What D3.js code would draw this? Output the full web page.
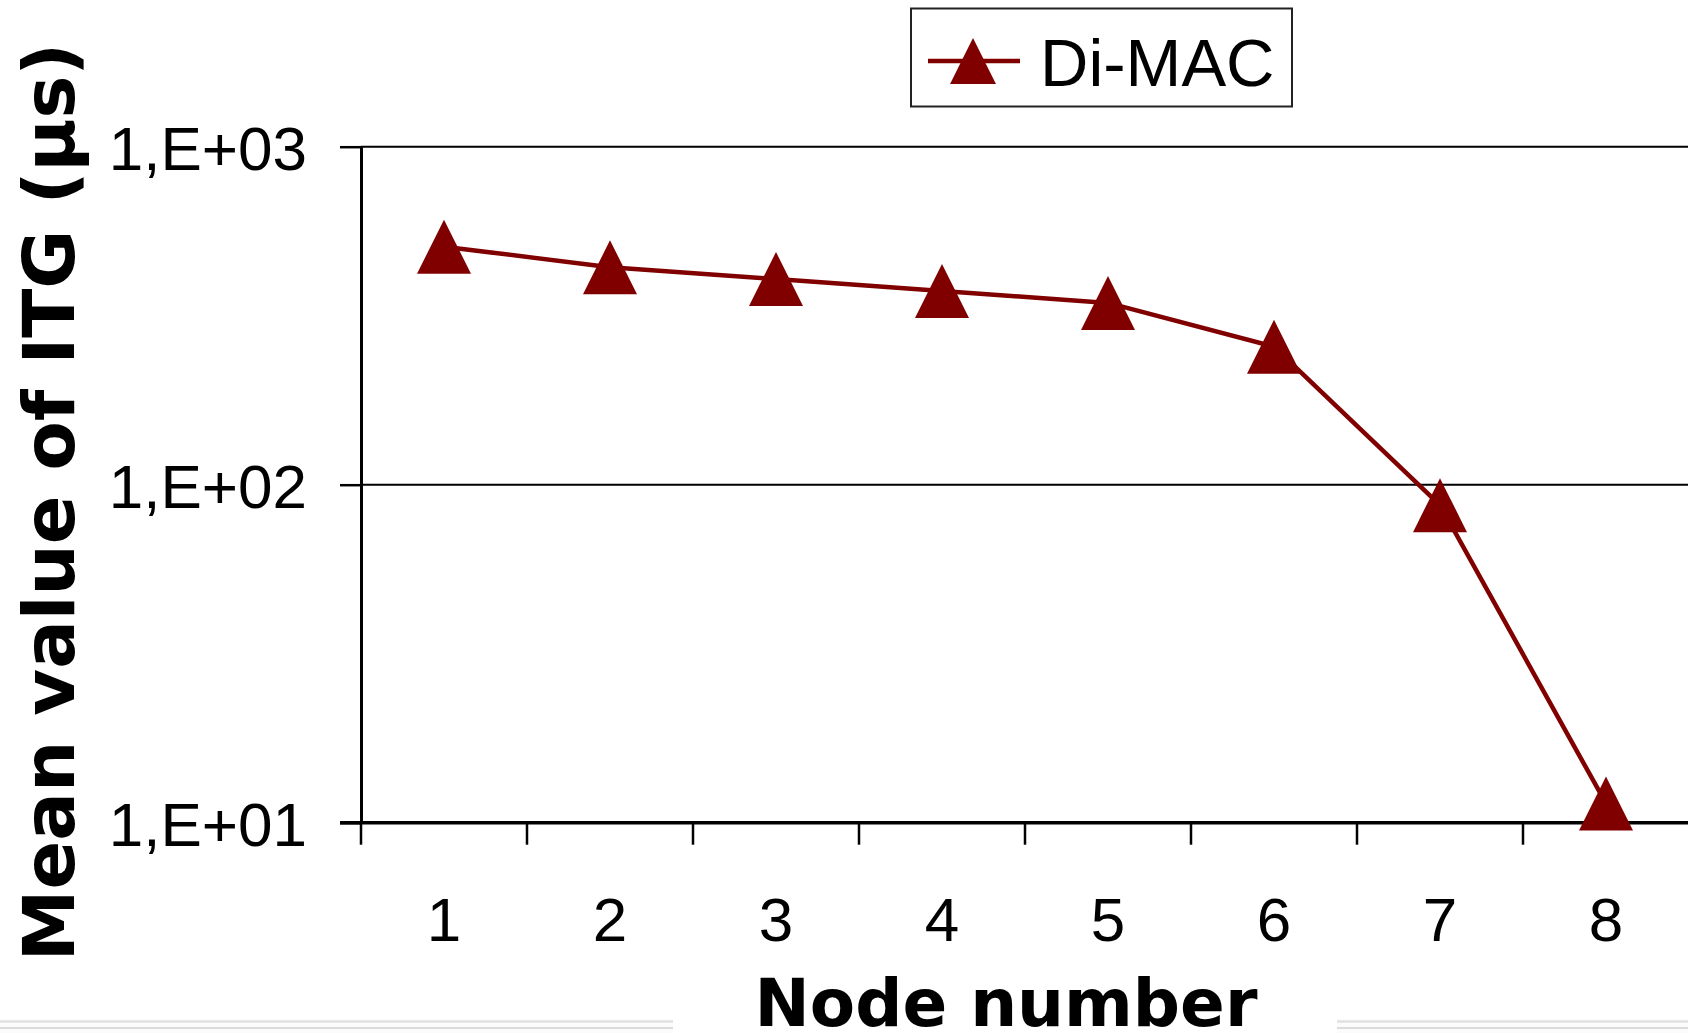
<!DOCTYPE html>
<html>
<head>
<meta charset="utf-8">
<script src="https://cdn.jsdelivr.net/npm/d3@7"></script>
<style>
  html, body { margin: 0; padding: 0; background: #ffffff; overflow: hidden; }
  svg { display: block; }
</style>
</head>
<body>
<div id="chart"></div>
<script>
// ---- data ----
var nodes = ["1", "2", "3", "4", "5", "6", "7", "8"];
var itgMean = [506, 440, 406, 374, 345, 256, 87, 11.4];
var yTickValues = [10, 100, 1000];
var yTickLabels = ["1,E+01", "1,E+02", "1,E+03"];
var seriesName = "Di-MAC";

var W = 1688, H = 1033;
var dark = "#800000";

var svg = d3.select("#chart").append("svg")
    .attr("width", W)
    .attr("height", H);

// faint page lines at the bottom
svg.append("rect").attr("x", 0).attr("y", 1019).attr("width", W).attr("height", 14).attr("fill", "#fbfbfb");
[1021.5, 1028].forEach(function(yy) {
  svg.append("line")
    .attr("x1", 0).attr("x2", W)
    .attr("y1", yy).attr("y2", yy)
    .attr("stroke", "#dcdcdc").attr("stroke-width", 2);
});

var x = d3.scaleBand().domain(nodes).range([361, 361 + 8 * 166]);
var y = d3.scaleLog().domain([10, 1000]).range([822.7, 146.7]);

//-------- gridlines --------
svg.append("g").selectAll("line")
    .data(yTickValues.slice(1))
    .join("line")
    .attr("x1", x.range()[0]).attr("x2", W)
    .attr("y1", d => y(d)).attr("y2", d => y(d))
    .attr("stroke", "#000").attr("stroke-width", 2);

//-------- y axis --------
var yAxis = d3.axisLeft(y)
    .tickValues(yTickValues)
    .tickFormat((d, i) => yTickLabels[i])
    .tickSize(21)
    .tickSizeOuter(0)
    .tickPadding(33);

var gy = svg.append("g")
    .attr("transform", "translate(" + x.range()[0] + ",0)")
    .call(yAxis);
gy.select(".domain").attr("stroke-width", 3);
gy.selectAll(".tick line").attr("stroke-width", 2.5);
gy.selectAll(".tick text")
    .attr("font-family", "'Liberation Sans', Arial, sans-serif")
    .attr("font-size", 62)
    .attr("fill", "#000")
    .attr("dy", "0.36em");

//-------- x axis --------
var gx = svg.append("g");
gx.append("line")
    .attr("x1", x.range()[0] - 21).attr("x2", W)
    .attr("y1", y(10)).attr("y2", y(10))
    .attr("stroke", "#000").attr("stroke-width", 3.5);
gx.selectAll(".xtick")
    .data(nodes)
    .join("line")
    .attr("class", "xtick")
    .attr("x1", d => x(d)).attr("x2", d => x(d))
    .attr("y1", y(10)).attr("y2", y(10) + 22)
    .attr("stroke", "#000").attr("stroke-width", 2.5);
gx.selectAll(".xlabel")
    .data(nodes)
    .join("text")
    .attr("class", "xlabel")
    .attr("x", d => x(d) + x.bandwidth() / 2)
    .attr("y", 941)
    .attr("text-anchor", "middle")
    .attr("font-family", "'Liberation Sans', Arial, sans-serif")
    .attr("font-size", 62)
    .text(d => d);

//-------- axis titles --------
svg.append("rect")
    .attr("x", 673).attr("y", 960).attr("width", 664).attr("height", 73)
    .attr("fill", "#fff");
svg.append("text")
    .attr("x", 1006)
    .attr("y", 1026)
    .attr("text-anchor", "middle")
    .attr("font-family", "'DejaVu Sans', Verdana, sans-serif")
    .attr("font-weight", "bold")
    .attr("font-size", 66)
    .text("Node number");

svg.append("text")
    .attr("transform", "translate(74,502) rotate(-90)")
    .attr("text-anchor", "middle")
    .attr("font-family", "'DejaVu Sans', Verdana, sans-serif")
    .attr("font-weight", "bold")
    .attr("font-size", 72)
    .text("Mean value of ITG (μs)");

//-------- series --------
var pts = nodes.map((n, i) => [x(n) + x.bandwidth() / 2, y(itgMean[i])]);

svg.append("path")
    .datum(pts)
    .attr("d", d3.line())
    .attr("fill", "none")
    .attr("stroke", dark)
    .attr("stroke-width", 4.5)
    .attr("stroke-linejoin", "round");

var tri = "M0,-27L27,27L-27,27Z";
svg.selectAll(".marker")
    .data(pts)
    .join("path")
    .attr("class", "marker")
    .attr("transform", d => "translate(" + d[0] + "," + d[1] + ")")
    .attr("d", tri)
    .attr("fill", dark);

//-------- legend --------
var lg = svg.append("g");
lg.append("rect")
    .attr("x", 911).attr("y", 8.5).attr("width", 381).attr("height", 98)
    .attr("fill", "#fff").attr("stroke", "#222").attr("stroke-width", 2);
lg.append("line")
    .attr("x1", 928).attr("x2", 1020).attr("y1", 61).attr("y2", 61)
    .attr("stroke", dark).attr("stroke-width", 4.5);
lg.append("path")
    .attr("transform", "translate(973,61) scale(0.85)")
    .attr("d", tri)
    .attr("fill", dark);
lg.append("text")
    .attr("x", 1040).attr("y", 86)
    .attr("font-family", "'Liberation Sans', Arial, sans-serif")
    .attr("font-size", 67)
    .text(seriesName);
</script>
</body>
</html>
